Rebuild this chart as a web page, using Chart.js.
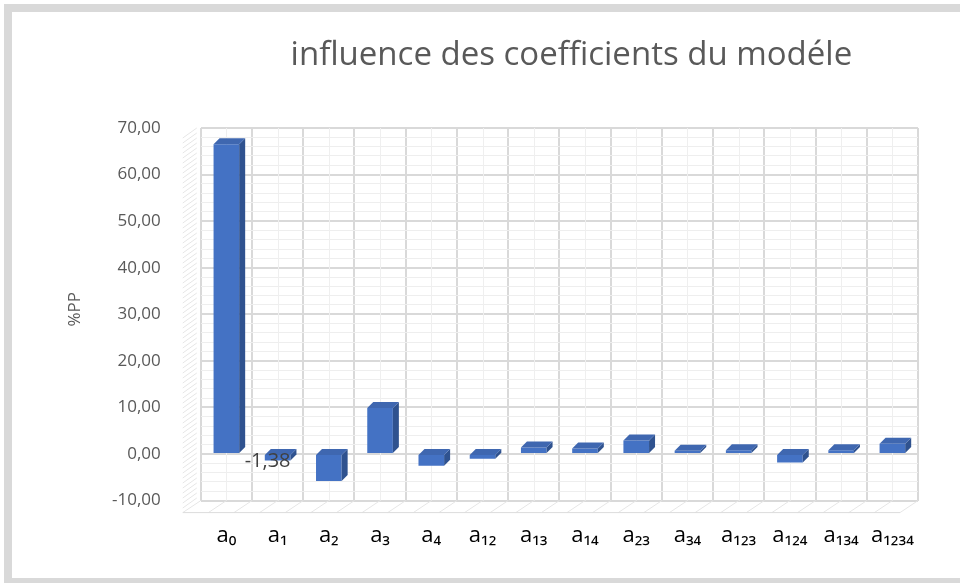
<!DOCTYPE html>
<html>
<head>
<meta charset="utf-8">
<script src="https://cdn.jsdelivr.net/npm/chart.js@4.4.1/dist/chart.umd.min.js"></script>
<style>
  html, body { margin: 0; padding: 0; background: #ffffff; }
  #frame { position: absolute; left: 4px; top: 4px; width: 948px; height: 566px;
           border-top: 8px solid #d9d9d9; border-left: 8px solid #d9d9d9; border-bottom: 5px solid #d9d9d9; background: #fff; }
  #wrap { position: absolute; left: 0; top: 0; width: 960px; height: 583px; }
</style>
</head>
<body>
<div id="frame"></div>
<div id="wrap"><canvas id="c" width="960" height="583"></canvas></div>
<script>
const chartTitle = 'influence des coefficients du modéle';
const yAxisTitle = '%PP';
const categories = ['a₀','a₁','a₂','a₃','a₄','a₁₂','a₁₃','a₁₄','a₂₃','a₃₄','a₁₂₃','a₁₂₄','a₁₃₄','a₁₂₃₄'];
const values = [66.5, -1.38, -5.8, 9.9, -2.5, -1.0, 1.4, 1.2, 2.9, 0.7, 0.8, -1.8, 0.8, 2.2];
const labelledIndex = [1];
const yMin = -10, yMax = 70, yMajor = 10, yMinor = 2;

const fmt = v => v.toFixed(2).replace('.', ',');

const bar3d = {
  id: 'bar3d',
  beforeDatasetsDraw(chart) {
    const {ctx, chartArea: a} = chart;
    const xs = chart.scales.x;
    ctx.save();
    ctx.strokeStyle = '#efefef'; ctx.lineWidth = 1;
    categories.forEach((c, i) => {
      const x = Math.round(xs.getPixelForValue(i)) + 0.5;
      ctx.beginPath(); ctx.moveTo(x, a.top); ctx.lineTo(x, a.bottom); ctx.stroke();
    });
    ctx.strokeStyle = '#e6e6e6';
    for (let y = a.top; y <= a.bottom; y += 5) {
      ctx.beginPath(); ctx.moveTo(a.left - 18, y + 10); ctx.lineTo(a.left - 4, y); ctx.stroke();
    }
    const n = categories.length * 2;
    for (let k = 0; k <= n; k++) {
      const x = a.left + (a.right - a.left) * k / n;
      ctx.beginPath(); ctx.moveTo(x - 18, a.bottom + 12); ctx.lineTo(x, a.bottom); ctx.stroke();
    }
    ctx.strokeStyle = '#dcdcdc';
    ctx.beginPath(); ctx.moveTo(a.left - 18, a.bottom + 12); ctx.lineTo(a.right - 18, a.bottom + 12); ctx.stroke();
    ctx.restore();
  },
  afterDatasetsDraw(chart) {
    const {ctx} = chart;
    const a = chart.chartArea;
    const meta = chart.getDatasetMeta(0);
    const d = 6;
    ctx.save();
    meta.data.forEach((el, i) => {
      const p = el.getProps(['x', 'y', 'base', 'width'], true);
      const l = p.x - p.width / 2, r = p.x + p.width / 2;
      const top = Math.min(p.y, p.base), bot = Math.max(p.y, p.base);
      ctx.fillStyle = '#2f528f';
      ctx.beginPath();
      ctx.moveTo(r, top); ctx.lineTo(r + d, top - d); ctx.lineTo(r + d, bot - d); ctx.lineTo(r, bot); ctx.closePath(); ctx.fill();
      ctx.fillStyle = '#3f67b0';
      ctx.beginPath();
      ctx.moveTo(l, top); ctx.lineTo(l + d, top - d); ctx.lineTo(r + d, top - d); ctx.lineTo(r, top); ctx.closePath(); ctx.fill();
    });
    ctx.fillStyle = '#404040';
    ctx.font = '20px "Open Sans", sans-serif';
    ctx.textAlign = 'center'; ctx.textBaseline = 'middle';
    labelledIndex.forEach(i => {
      const p = meta.data[i].getProps(['x', 'base'], true);
      ctx.fillText(fmt(values[i]), p.x - 10, p.base + 6);
    });
    ctx.save();
    ctx.fillStyle = '#595959';
    ctx.font = '17px "Open Sans", sans-serif';
    ctx.translate(a.left - 126, (a.top + a.bottom) / 2 - 5);
    ctx.rotate(-Math.PI / 2);
    ctx.fillText(yAxisTitle, 0, 0);
    ctx.restore();
    ctx.fillStyle = '#595959';
    ctx.font = '33px "Open Sans", sans-serif';
    ctx.textBaseline = 'middle';
    ctx.fillText(chartTitle, (a.left + a.right) / 2 + 12, 56);
    ctx.restore();
  }
};

new Chart(document.getElementById('c'), {
  type: 'bar',
  data: {
    labels: categories,
    datasets: [{
      data: values,
      backgroundColor: '#4472c4',
      borderWidth: 0,
      barPercentage: 0.5,
      categoryPercentage: 1.0
    }]
  },
  options: {
    responsive: false,
    animation: false,
    layout: { padding: { top: 128, right: 42, bottom: 12, left: 72 } },
    plugins: { legend: { display: false }, tooltip: { enabled: false }, title: { display: false } },
    scales: {
      x: {
        offset: true,
        grid: { color: '#d9d9d9', lineWidth: 2, drawTicks: false, offset: true },
        border: { display: false },
        ticks: { color: '#000000', font: { family: '"Open Sans", sans-serif', size: 22 }, padding: 22, maxRotation: 0, autoSkip: false }
      },
      y: {
        min: yMin, max: yMax,
        grid: {
          drawTicks: false,
          color: c => (c.tick && c.tick.value % yMajor === 0) ? '#d9d9d9' : '#eeeeee',
          lineWidth: c => (c.tick && c.tick.value % yMajor === 0) ? 2 : 1
        },
        border: { display: false },
        ticks: {
          stepSize: yMinor,
          autoSkip: false,
          color: '#595959',
          font: { family: '"Open Sans", sans-serif', size: 17 },
          padding: 40,
          callback: v => (v % yMajor === 0) ? fmt(v) : ''
        }
      }
    }
  },
  plugins: [bar3d]
});
</script>
</body>
</html>
